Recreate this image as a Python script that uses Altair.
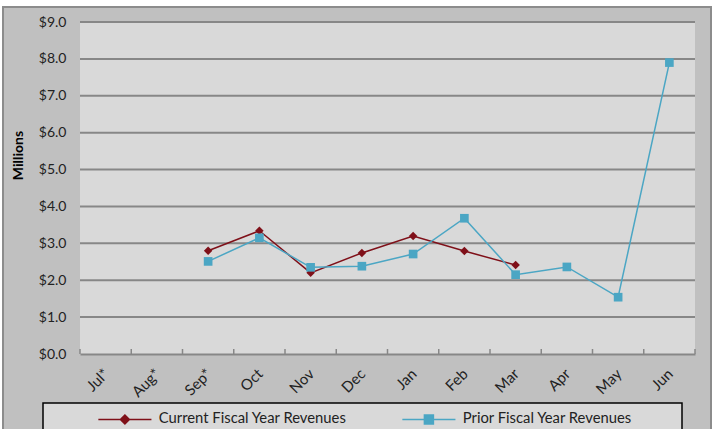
import altair as alt
import pandas as pd

months = ["Jul*", "Aug*", "Sep*", "Oct", "Nov", "Dec", "Jan", "Feb", "Mar", "Apr", "May", "Jun"]
current_months = ["Sep*", "Oct", "Nov", "Dec", "Jan", "Feb", "Mar"]
current_values = [2.80, 3.34, 2.20, 2.74, 3.20, 2.79, 2.41]
prior_months = ["Sep*", "Oct", "Nov", "Dec", "Jan", "Feb", "Mar", "Apr", "May", "Jun"]
prior_values = [2.51, 3.15, 2.35, 2.38, 2.71, 3.68, 2.15, 2.36, 1.54, 7.90]
series_names = ["Current Fiscal Year Revenues", "Prior Fiscal Year Revenues"]
series_colors = ["#7f1019", "#4ba6c4"]
y_ticks = [0, 1, 2, 3, 4, 5, 6, 7, 8, 9]

FONT = "Lato"
W, H = 615, 332

df = pd.DataFrame(
    [{"month": m, "value": v, "series": series_names[0]} for m, v in zip(current_months, current_values)]
    + [{"month": m, "value": v, "series": series_names[1]} for m, v in zip(prior_months, prior_values)]
)
one = pd.DataFrame({"k": [0]})
grid_df = pd.DataFrame({"value": [t for t in y_ticks if t > 0]})
month_df = pd.DataFrame({"month": months})
legend_df = pd.DataFrame({"series": series_names})

xscale = alt.Scale(type="band", domain=months, paddingInner=0, paddingOuter=0)
yscale = alt.Scale(domain=[0, 9], nice=False, zero=True)
cscale = alt.Scale(domain=series_names, range=series_colors)

x_axis = alt.Axis(
    labelAngle=315, labelAlign="right", labelBaseline="top", labelPadding=12, labelOffset=-4,
    ticks=False, domain=True, domainColor="#878787", domainWidth=2, grid=False,
    labelFont=FONT, labelFontSize=15, labelColor="#222222", zindex=1,
)
y_axis = alt.Axis(
    values=y_ticks, labelExpr="'$' + format(datum.value, '.1f')", grid=False,
    domain=False, ticks=False, labelPadding=14, labelFont=FONT, labelFontSize=14,
    labelColor="#222222", titleFont=FONT, titleFontSize=14, titleFontWeight="bold",
    titleColor="#000000", titleAngle=270, titleX=-62, titleY=133,
    titleAlign="center", titleBaseline="middle", zindex=1,
)
x_enc = alt.X("month:N", scale=xscale, title=None, axis=x_axis)
y_enc = alt.Y("value:Q", scale=yscale, title="Millions", axis=y_axis)

outer = alt.Chart(one).mark_rect(fill="#c0c0c0", stroke="#8c8c8c", strokeWidth=2).encode(
    x=alt.value(-77), x2=alt.value(631), y=alt.value(-15), y2=alt.value(430)
)
plot_bg = alt.Chart(one).mark_rect(fill="#d9d9d9").encode(
    x=alt.value(0), x2=alt.value(W), y=alt.value(0), y2=alt.value(H)
)
grid = alt.Chart(grid_df).mark_rule(color="#878787", strokeWidth=2).encode(
    y=y_enc, x=alt.value(0), x2=alt.value(W)
)
ticks = alt.Chart(month_df).mark_rule(color="#878787", strokeWidth=1.5).encode(
    x=alt.X("month:N", scale=xscale, bandPosition=0, title=None, axis=x_axis),
    y=alt.value(H - 5), y2=alt.value(H)
)
tick_end = alt.Chart(one).mark_rule(color="#878787", strokeWidth=1.5).encode(
    x=alt.value(W), y=alt.value(H - 5), y2=alt.value(H)
)
legend_box = alt.Chart(one).mark_rect(fill="#d9d9d9", stroke="#000000", strokeWidth=1.5).encode(
    x=alt.value(-37), x2=alt.value(602), y=alt.value(381), y2=alt.value(430)
)


def series_layers(name, color, shape, size):
    base = alt.Chart(df).transform_filter(alt.datum.series == name)
    ln = base.mark_line(strokeWidth=1.5, color=color).encode(x=x_enc, y=y_enc)
    pt = base.mark_point(filled=True, size=size, opacity=1, shape=shape, color=color).encode(x=x_enc, y=y_enc)
    return [ln, pt]


cur_layers = series_layers(series_names[0], series_colors[0], "diamond", 72)
pri_layers = series_layers(series_names[1], series_colors[1], "square", 75)

diamond_path = "M-5.9,0H5.9M0,-1L1,0L0,1L-1,0Z"
square_path = "M-5.9,0H5.9M-1,-1H1V1H-1Z"

legend = alt.Legend(
    title=None, orient="none", legendX=37.5, legendY=390, direction="horizontal",
    symbolSize=81, symbolStrokeWidth=1.5, labelOffset=26.5, columnPadding=51,
    labelFont=FONT, labelFontSize=14.8, labelColor="#222222", labelLimit=400, padding=0,
    zindex=1,
)

# legend-only layer: its marks sit far above the canvas, only its legend is seen
legend_layer = alt.Chart(legend_df).mark_point(
    filled=True, size=81, opacity=1, strokeWidth=1.5
).encode(
    y=alt.value(-2000),
    fill=alt.Fill("series:N", scale=cscale, legend=legend),
    stroke=alt.Stroke("series:N", scale=cscale, legend=legend),
    shape=alt.Shape("series:N", scale=alt.Scale(domain=series_names, range=[diamond_path, square_path]), legend=legend),
)

chart = alt.layer(
    outer, plot_bg, grid, ticks, tick_end, legend_box, *cur_layers, *pri_layers, legend_layer
).properties(
    width=W, height=H, background="#ffffff",
    padding={"left": 80, "top": 22, "right": 21, "bottom": 75},
    autosize=alt.AutoSizeParams(type="none"),
).configure_view(stroke=None)

chart.save("out.html", embed_options={"renderer": "svg", "actions": False})
